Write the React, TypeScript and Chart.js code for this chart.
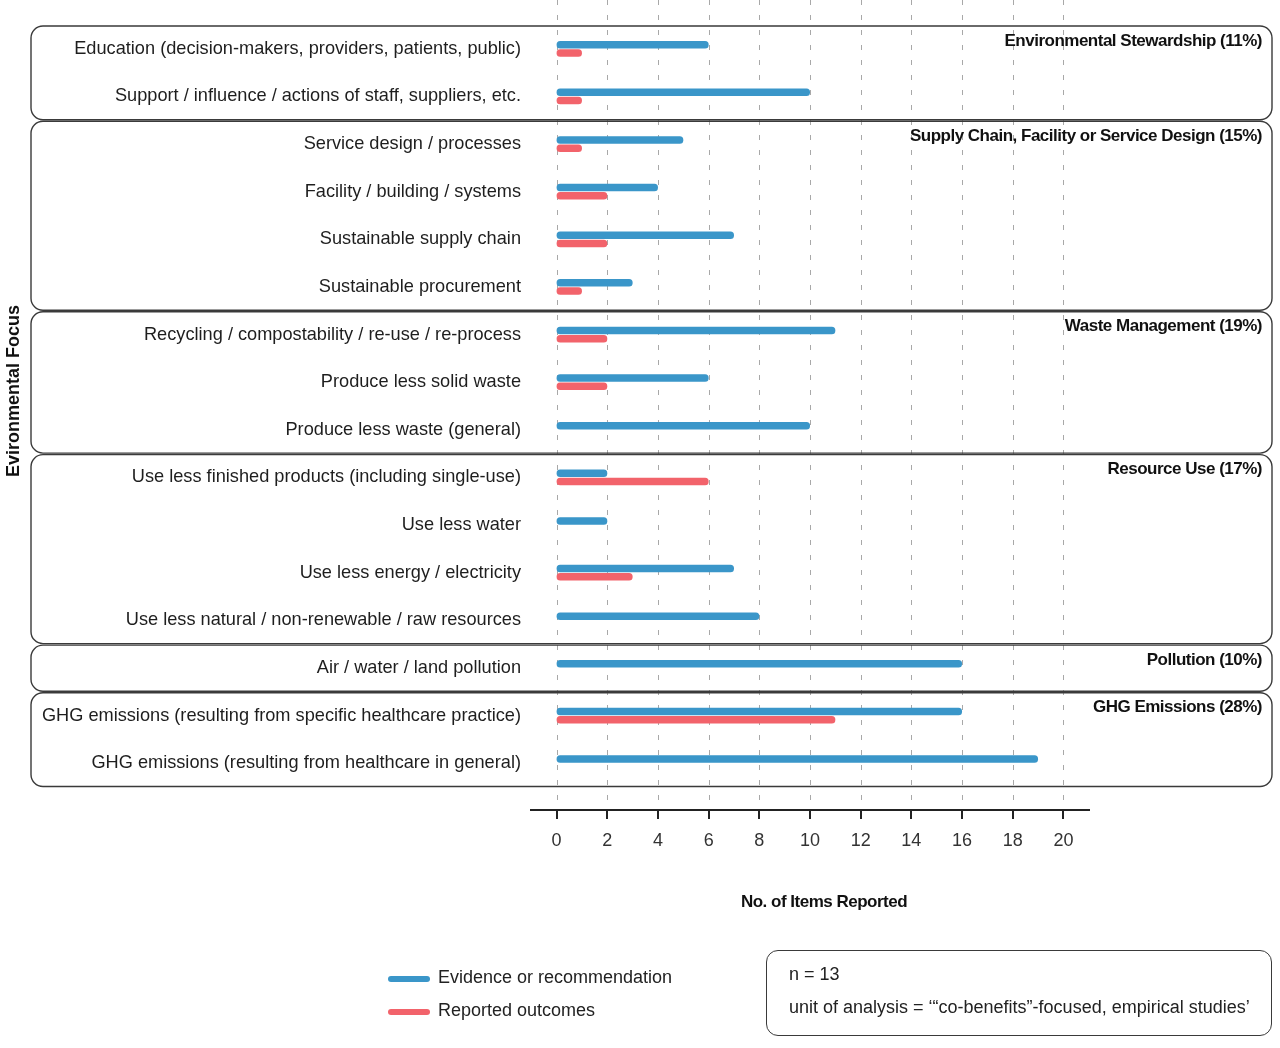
import { useEffect, useRef } from "react";
import { Chart, registerables } from "chart.js";
import type { ChartConfiguration, Plugin } from "chart.js";

Chart.register(...registerables);

const FONT = "'Liberation Sans', Arial, Helvetica, sans-serif";

const categories = [
  "Education (decision-makers, providers, patients, public)",
  "Support / influence / actions of staff, suppliers, etc.",
  "Service design / processes",
  "Facility / building / systems",
  "Sustainable supply chain",
  "Sustainable procurement",
  "Recycling / compostability / re-use / re-process",
  "Produce less solid waste",
  "Produce less waste (general)",
  "Use less finished products (including single-use)",
  "Use less water",
  "Use less energy / electricity",
  "Use less natural / non-renewable / raw resources",
  "Air / water / land pollution",
  "GHG emissions (resulting from specific healthcare practice)",
  "GHG emissions (resulting from healthcare in general)",
];

const evidence = [6, 10, 5, 4, 7, 3, 11, 6, 10, 2, 2, 7, 8, 16, 16, 19];
const outcomes = [1, 1, 1, 2, 2, 1, 2, 2, 0, 6, 0, 3, 0, 0, 11, 0];

const groupLabels = [
  "Environmental Stewardship (11%)",
  "Supply Chain, Facility or Service Design (15%)",
  "Waste Management (19%)",
  "Resource Use (17%)",
  "Pollution (10%)",
  "GHG Emissions (28%)",
];
const groupSizes = [2, 4, 3, 4, 1, 2];

const xTicks = [0, 2, 4, 6, 8, 10, 12, 14, 16, 18, 20];

const BLUE = "#3a96c9";
const RED = "#f2636b";

const decorPlugin: Plugin<"bar"> = {
  id: "decor",
  beforeDatasetsDraw(chart) {
    const { ctx } = chart;
    const x = chart.scales.x;
    ctx.save();
    ctx.strokeStyle = "#a8a8a8";
    ctx.lineWidth = 1;
    ctx.setLineDash([5, 10]);
    xTicks.forEach((v) => {
      const px = Math.round(x.getPixelForValue(v)) + 0.5;
      ctx.beginPath();
      ctx.moveTo(px, 0);
      ctx.lineTo(px, 808);
      ctx.stroke();
    });
    ctx.restore();
  },
  afterDraw(chart) {
    const { ctx, chartArea } = chart;
    const x = chart.scales.x;
    const y = chart.scales.y;
    const band = y.getPixelForValue(1) - y.getPixelForValue(0);
    ctx.save();

    // group boxes
    let start = 0;
    groupSizes.forEach((n, gi) => {
      const top = y.getPixelForValue(start) - band / 2 + 1;
      const bottom = y.getPixelForValue(start + n - 1) + band / 2 - 0.5;
      ctx.beginPath();
      ctx.lineWidth = 1.4;
      ctx.strokeStyle = "#3a3a3a";
      ctx.roundRect(31, top, 1272 - 31, bottom - top, 12);
      ctx.stroke();
      ctx.fillStyle = "#111";
      ctx.font = `bold 17px ${FONT}`;
      (ctx as any).letterSpacing = "-0.5px";
      ctx.textAlign = "right";
      ctx.textBaseline = "middle";
      ctx.fillText(groupLabels[gi], 1262, top + 15);
      (ctx as any).letterSpacing = "0px";
      start += n;
    });

    // x axis line and ticks
    ctx.strokeStyle = "#222";
    ctx.lineWidth = 2;
    ctx.beginPath();
    ctx.moveTo(chartArea.left, 810);
    ctx.lineTo(chartArea.right, 810);
    ctx.stroke();
    xTicks.forEach((v) => {
      const px = Math.round(x.getPixelForValue(v));
      ctx.beginPath();
      ctx.moveTo(px, 810);
      ctx.lineTo(px, 819);
      ctx.stroke();
    });

    // axis titles
    ctx.fillStyle = "#111";
    ctx.font = `bold 17px ${FONT}`;
    ctx.textAlign = "center";
    ctx.textBaseline = "middle";
    (ctx as any).letterSpacing = "-0.5px";
    ctx.fillText("No. of Items Reported", 824, 902);
    (ctx as any).letterSpacing = "0px";
    ctx.font = `bold 18px ${FONT}`;
    ctx.translate(14, 391);
    ctx.rotate(-Math.PI / 2);
    ctx.fillText("Evironmental Focus", 0, 0);
    ctx.restore();
  },
};

export default function App() {
  const canvasRef = useRef<HTMLCanvasElement>(null);
  const chartRef = useRef<Chart | null>(null);

  useEffect(() => {
    if (!canvasRef.current) return;
    if (chartRef.current) chartRef.current.destroy();

    const config: ChartConfiguration<"bar"> = {
      type: "bar",
      data: {
        labels: categories,
        datasets: [
          {
            label: "Evidence or recommendation",
            data: evidence,
            backgroundColor: BLUE,
            borderRadius: 3.5,
            borderSkipped: false,
            categoryPercentage: 0.35,
            barPercentage: 0.9,
          },
          {
            label: "Reported outcomes",
            data: outcomes,
            backgroundColor: RED,
            borderRadius: 3.5,
            borderSkipped: false,
            categoryPercentage: 0.35,
            barPercentage: 0.9,
          },
        ],
      },
      options: {
        indexAxis: "y",
        animation: false,
        responsive: true,
        maintainAspectRatio: false,
        layout: { padding: { left: 0, top: 25, right: 190, bottom: 192 } },
        plugins: {
          legend: { display: false },
          tooltip: { enabled: false },
        },
        scales: {
          x: {
            type: "linear",
            min: -1.05,
            max: 21.05,
            afterBuildTicks: (scale) => {
              scale.ticks = xTicks.map((v) => ({ value: v }));
            },
            afterFit: (scale) => {
              scale.height = 69;
            },
            grid: { display: false, drawTicks: false },
            border: { display: false },
            ticks: {
              padding: 43,
              color: "#333",
              font: { family: FONT, size: 18 },
            },
          },
          y: {
            afterFit: (scale) => {
              scale.width = 530;
            },
            grid: { display: false, drawTicks: false },
            border: { display: false },
            ticks: {
              padding: 9,
              color: "#1e1e1e",
              font: { family: FONT, size: 18.2 },
            },
          },
        },
      },
      plugins: [decorPlugin],
    };

    chartRef.current = new Chart(canvasRef.current, config);
    return () => {
      if (chartRef.current) {
        chartRef.current.destroy();
        chartRef.current = null;
      }
    };
  }, []);

  const keyStyle = (color: string): React.CSSProperties => ({
    position: "absolute",
    left: 388,
    width: 42,
    height: 6,
    borderRadius: 3,
    background: color,
  });

  return (
    <div
      style={{
        position: "absolute",
        left: 0,
        top: 0,
        width: 1280,
        height: 1048,
        background: "#fff",
        fontFamily: FONT,
        color: "#222",
      }}
    >
      <canvas ref={canvasRef}></canvas>
      <div style={{ ...keyStyle(BLUE), top: 976 }} />
      <div style={{ position: "absolute", left: 438, top: 967, fontSize: 18 }}>
        Evidence or recommendation
      </div>
      <div style={{ ...keyStyle(RED), top: 1009 }} />
      <div style={{ position: "absolute", left: 438, top: 1000, fontSize: 18 }}>
        Reported outcomes
      </div>
      <div
        style={{
          position: "absolute",
          left: 766,
          top: 950,
          width: 1272 - 766,
          height: 1036 - 950,
          boxSizing: "border-box",
          border: "1.4px solid #3a3a3a",
          borderRadius: 12,
          fontSize: 18,
        }}
      >
        <div style={{ position: "absolute", left: 22, top: 13 }}>n = 13</div>
        <div style={{ position: "absolute", left: 22, top: 46, whiteSpace: "nowrap" }}>
          unit of analysis = ‘“co-benefits”-focused, empirical studies’
        </div>
      </div>
    </div>
  );
}
